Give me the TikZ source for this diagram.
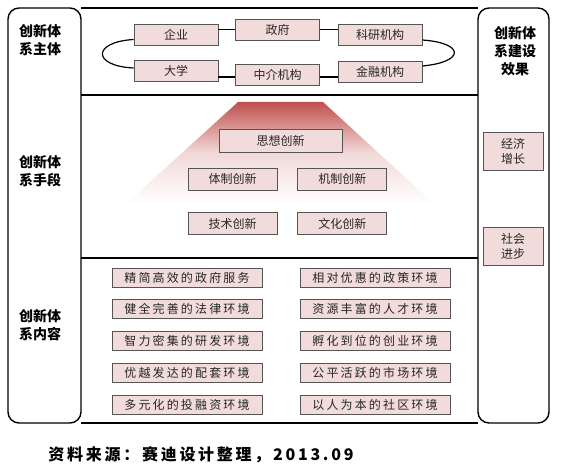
\documentclass[tikz,border=0pt]{standalone}
\usepackage{fontspec}
\usetikzlibrary{positioning,calc}
\newfontfamily\cjk{Noto Sans CJK SC}
\newfontfamily\cjkwide[LetterSpace=18]{Noto Sans CJK SC}
\newfontfamily\cjkcap[LetterSpace=17]{Noto Sans CJK SC}
\definecolor{BoxPink}{RGB}{242,220,219}
\definecolor{BoxEdge}{RGB}{85,85,85}
\definecolor{TrapRed}{RGB}{192,80,77}

\begin{document}
\begin{tikzpicture}[x=1pt, y=-1pt, every node/.style={font=\cjk\fontsize{12}{14}\selectfont, align=center},
  bx/.style={draw=BoxEdge, fill=BoxPink, line width=0.8pt, inner sep=0pt, text=black!85},
  topbox/.style={bx, minimum width=84pt, minimum height=21pt},
  midbox/.style={bx, minimum width=89pt, minimum height=22pt},
  envbox/.style={bx, minimum width=150pt, minimum height=19pt, font=\cjkwide\fontsize{12}{14}\selectfont},
  effbox/.style={bx, minimum width=60pt, minimum height=38pt, font=\cjk\fontsize{12}{15}\selectfont},
  side/.style={font=\cjk\bfseries\fontsize{14}{18}\selectfont}]
  \useasboundingbox (0,0) rectangle (567,470);

  % frame
  \draw[line width=1.8pt] (81,8) -- (478,8) (81,95) -- (478,95) (81,258) -- (478,258) (81,423) -- (478,423);
  \draw[line width=1.4pt, rounded corners=11pt, fill=white] (8,8) rectangle (81,423);
  \draw[line width=1.4pt, rounded corners=11pt, fill=white] (478,8) rectangle (549,423);

  % side labels
  \node[side] (lab1) at (40,40) {创新体\\系主体};
  \node[side] (lab2) at (40,171) {创新体\\系手段};
  \node[side] (lab3) at (40,325) {创新体\\系内容};
  \node[side] (lab4) at (515,51) {创新体\\系建设\\效果};

  % subjects
  \node[topbox] (qiye) at (176,34.5) {企业};
  \node[topbox] (zhengfu) at (277.5,29.5) {政府};
  \node[topbox] (keyan) at (380,35) {科研机构};
  \node[topbox] (daxue) at (176,71) {大学};
  \node[topbox] (zhongjie) at (277.5,75) {中介机构};
  \node[topbox] (jinrong) at (380,72) {金融机构};
  \draw[line width=1.2pt] (zhengfu.west) -- (zhengfu.west -| qiye.east);
  \draw[line width=1.2pt] (zhengfu.east) -- (zhengfu.east -| keyan.west);
  \draw[line width=1.2pt] ($(zhongjie.west)+(0,2)$) -- ($(zhongjie.west -| daxue.east)+(0,2)$);
  \draw[line width=1.2pt] ($(zhongjie.east)+(0,2)$) -- ($(zhongjie.east -| jinrong.west)+(0,2)$);
  \draw[line width=1.2pt] ($(qiye.west)+(0,5)$) .. controls (92,42) and (92,66) .. ($(daxue.west)+(0,-3)$);
  \draw[line width=1.2pt] ($(keyan.east)+(0,5)$) .. controls (465,43) and (465,62) .. ($(jinrong.east)+(0,-6)$);

  % means
  \shade[top color=TrapRed, bottom color=white, middle color=TrapRed!22] (238,102) -- (323,102) -- (433,203) -- (127,203) -- cycle;
  \node[bx, minimum width=123pt, minimum height=23pt] (sixiang) at (280.5,140.5) {思想创新};
  \node[midbox] (tizhi) at (232.5,179) {体制创新};
  \node[midbox, right=20pt of tizhi] (jizhi) {机制创新};
  \node[midbox, below=22pt of tizhi] (jishu) {技术创新};
  \node[midbox, below=22pt of jizhi] (wenhua) {文化创新};

  % contents
  \node[envbox] (env1) at (187,277.5) {精简高效的政府服务};
  \node[envbox, below=12pt of env1] (env2) {健全完善的法律环境};
  \node[envbox, below=12pt of env2] (env3) {智力密集的研发环境};
  \node[envbox, below=12pt of env3] (env4) {优越发达的配套环境};
  \node[envbox, below=12pt of env4] (env5) {多元化的投融资环境};
  \node[envbox] (env6) at (375,277.5) {相对优惠的政策环境};
  \node[envbox, below=12pt of env6] (env7) {资源丰富的人才环境};
  \node[envbox, below=12pt of env7] (env8) {孵化到位的创业环境};
  \node[envbox, below=12pt of env8] (env9) {公平活跃的市场环境};
  \node[envbox, below=12pt of env9] (env10) {以人为本的社区环境};

  % effects
  \node[effbox] (jingji) at (513,151) {经济\\增长};
  \node[effbox] (shehui) at (513,246) {社会\\进步};

  \node[font=\cjkcap\bfseries\fontsize{16}{18}\selectfont] (source) at (201,455) {资料来源：赛迪设计整理，2013.09};
\end{tikzpicture}
\end{document}
